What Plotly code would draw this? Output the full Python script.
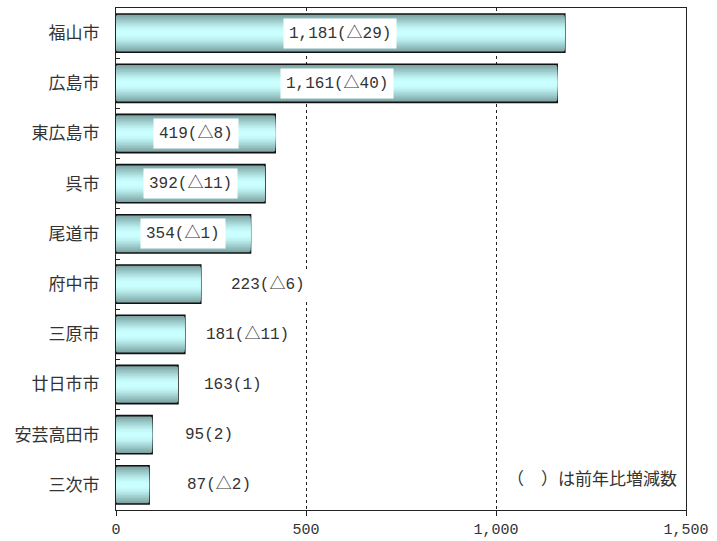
import plotly.graph_objects as go

cities = ["福山市", "広島市", "東広島市", "呉市", "尾道市", "府中市", "三原市", "廿日市市", "安芸高田市", "三次市"]
values = [1181, 1161, 419, 392, 354, 223, 181, 163, 95, 87]
labels = ["1,181(△29)", "1,161(△40)", "419(△8)", "392(△11)", "354(△1)",
          "223(△6)", "181(△11)", "163(1)", "95(2)", "87(△2)"]
inside = [True, True, True, True, True, False, False, False, False, False]
outside_shift = [0, 0, 0, 0, 0, 24, 15, 20, 27, 32]

CJK = "Noto Sans CJK JP"
NUM = "Liberation Mono, Noto Sans CJK JP"
TXT = "#333333"

# gradient layers (outer -> inner)
layer_widths = [0.76, 0.70, 0.64, 0.58, 0.52, 0.46, 0.40, 0.34, 0.28, 0.22, 0.16, 0.10]
layer_colors = ["#7ea2a2", "#85acac", "#8db6b6", "#95c0c0", "#9dcaca", "#a5d4d4",
                "#addede", "#b5e7e7", "#bdefef", "#c3f6f6", "#c7fbfb", "#caffff"]

fig = go.Figure()
for i, (w, c) in enumerate(zip(layer_widths, layer_colors)):
    fig.add_trace(go.Bar(
        x=values, y=cities, orientation="h", width=w,
        marker=dict(color=c,
                    line=dict(color="#111111", width=1.6 if i == 0 else 0)),
        hoverinfo="skip", showlegend=False,
    ))

annotations = []
for city, v, lab, ins, sh in zip(cities, values, labels, inside, outside_shift):
    if ins:
        annotations.append(dict(x=v / 2, y=city, xref="x", yref="y", text=lab,
                                showarrow=False, bgcolor="white",
                                font=dict(family=NUM, size=16, color=TXT),
                                borderpad=5))
    else:
        annotations.append(dict(x=v, y=city, xref="x", yref="y", text=lab,
                                showarrow=False, xanchor="left", xshift=sh,
                                bgcolor="white", borderpad=5,
                                font=dict(family=NUM, size=16, color=TXT)))

annotations.append(dict(x=0.988, y=0.065, xref="paper", yref="paper",
                        text="（　）は前年比増減数", showarrow=False,
                        xanchor="right", yanchor="middle",
                        font=dict(family=CJK, size=17, color=TXT)))

fig.update_layout(
    width=717, height=541,
    margin=dict(l=116, r=31, t=8, b=31, autoexpand=False),
    paper_bgcolor="white", plot_bgcolor="white",
    barmode="overlay",
    annotations=annotations,
    font=dict(family=CJK, size=14, color=TXT),
    xaxis=dict(range=[0, 1500], tickvals=[0, 500, 1000, 1500],
               ticktext=["0", "500", "1,000", "1,500"],
               showgrid=True, gridcolor="#222222", griddash="dot", gridwidth=1,
               showline=True, linecolor="#222222", linewidth=1, mirror=True,
               ticks="outside", ticklen=5, tickcolor="#222222",
               zeroline=False, fixedrange=True, ticklabelstandoff=0,
               automargin=False,
               tickfont=dict(family=NUM, size=15, color=TXT)),
    yaxis=dict(autorange="reversed", showline=True, linecolor="#222222",
               linewidth=1, mirror=True, ticks="inside", ticklen=4,
               tickson="boundaries", tickcolor="#222222", showgrid=False,
               ticklabelstandoff=12, automargin=False,
               tickfont=dict(family=CJK, size=17, color=TXT)),
)

fig.write_html("out.html")
